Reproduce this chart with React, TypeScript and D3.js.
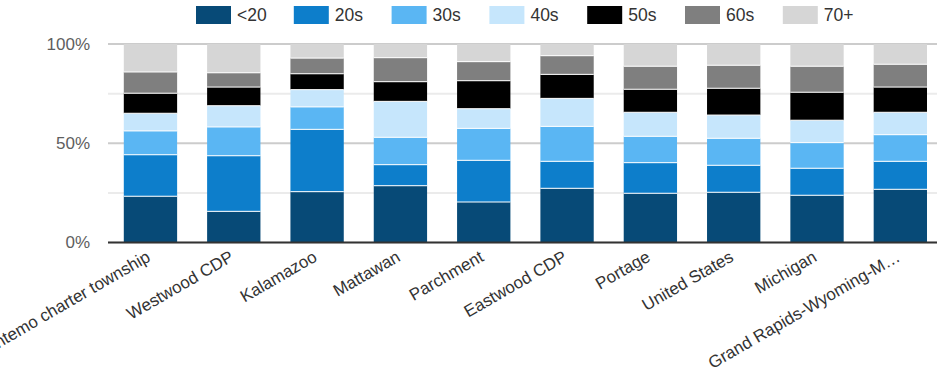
import React from "react";
import * as d3 from "d3";

const categories = [
  "Oshtemo charter township",
  "Westwood CDP",
  "Kalamazoo",
  "Mattawan",
  "Parchment",
  "Eastwood CDP",
  "Portage",
  "United States",
  "Michigan",
  "Grand Rapids-Wyoming-M…",
];

const seriesNames = ["<20", "20s", "30s", "40s", "50s", "60s", "70+"];
const seriesColors = ["#074a77", "#0d7ecb", "#5ab6f3", "#c6e6fc", "#000000", "#7f7f7f", "#d6d6d6"];

const under20 = [23.3, 15.7, 25.6, 28.6, 20.4, 27.3, 24.8, 25.3, 23.8, 26.8];
const twenties = [20.9, 28.0, 31.4, 10.6, 21.0, 13.6, 15.4, 13.6, 13.6, 14.1];
const thirties = [12.0, 14.5, 11.3, 13.8, 16.1, 17.6, 13.3, 13.6, 12.9, 13.4];
const forties = [8.9, 10.7, 8.7, 18.1, 9.9, 14.1, 12.1, 11.7, 11.3, 11.3];
const fifties = [10.1, 9.4, 8.0, 9.9, 14.1, 12.1, 11.6, 13.5, 14.1, 12.7];
const sixties = [10.7, 7.2, 7.9, 12.1, 9.6, 9.4, 11.6, 11.6, 13.1, 11.5];
const seventyPlus = [14.1, 14.5, 7.1, 6.9, 8.9, 5.9, 11.2, 10.7, 11.2, 10.2];

const yTicks = [0, 0.25, 0.5, 0.75, 1];
const yLabelTicks = [0, 0.5, 1];

const W = 937;
const H = 377;

export default function App() {
  const series = [under20, twenties, thirties, forties, fifties, sixties, seventyPlus];
  const rows = categories.map((c, i) => {
    const r: any = { name: c };
    seriesNames.forEach((s, k) => (r[s] = series[k][i]));
    return r;
  });
  const stack = d3.stack<any>().keys(seriesNames).offset(d3.stackOffsetExpand);
  const stacked = stack(rows);

  const x = d3.scaleBand<string>().domain(categories).range([108.8, 942]).paddingInner(0.36).paddingOuter(0.18);
  const y = d3.scaleLinear().domain([0, 1]).range([242.5, 44]);
  const legendX = d3.scaleLinear().domain([0, 1]).range([196, 293.8]);
  const font = "Arial, 'Liberation Sans', sans-serif";

  return (
    <svg width={W} height={H} style={{ position: "absolute", left: 0, top: 0, background: "#fff" }} fontFamily={font}>
      {yTicks.map((t) => (
        <line
          key={t}
          x1={108}
          x2={W}
          y1={y(t)}
          y2={y(t)}
          stroke={t === 0.5 || t === 1 ? "#cccccc" : "#ebebeb"}
          strokeWidth={2}
        />
      ))}
      {stacked.map((layer, k) => (
        <g key={layer.key} fill={seriesColors[k]}>
          {layer.map((d, i) => (
            <rect
              key={i}
              x={x(categories[i])}
              width={x.bandwidth()}
              y={y(d[1])}
              height={y(d[0]) - y(d[1])}
            />
          ))}
        </g>
      ))}
      {stacked.slice(1).map((layer) => (
        <g key={"sep" + layer.key}>
          {layer.map((d, i) => (
            <line
              key={i}
              x1={x(categories[i])}
              x2={(x(categories[i]) as number) + x.bandwidth()}
              y1={y(d[0])}
              y2={y(d[0])}
              stroke="#fff"
              strokeWidth={1}
            />
          ))}
        </g>
      ))}
      <line x1={108} x2={W} y1={y(0)} y2={y(0)} stroke="#333" strokeWidth={2} />
      {yLabelTicks.map((t) => (
        <text key={t} x={90} y={y(t)} dy="0.35em" textAnchor="end" fontSize={17} fill="#5e5e5e">
          {d3.format(".0%")(t)}
        </text>
      ))}
      {categories.map((c) => (
        <text
          key={c}
          transform={`translate(${(x(c) as number) + x.bandwidth() / 2 - 2},${255}) rotate(-30)`}
          textAnchor="end"
          dy="0.35em"
          fontSize={17}
          fill="#333"
        >
          {c}
        </text>
      ))}
      {seriesNames.map((s, k) => (
        <g key={s} transform={`translate(${legendX(k)},6)`}>
          <rect width={35} height={18} fill={seriesColors[k]} />
          <text x={41} y={9} dy="0.35em" fontSize={17.5} fill="#333">
            {s}
          </text>
        </g>
      ))}
    </svg>
  );
}
